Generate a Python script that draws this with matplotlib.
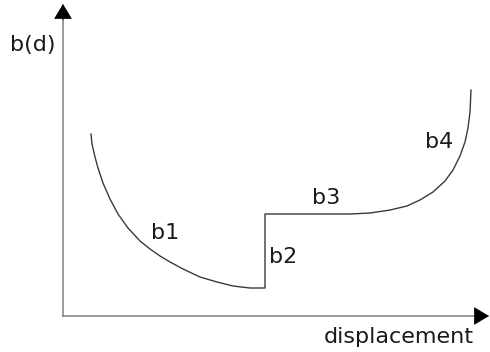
import matplotlib
matplotlib.use('Agg')
import matplotlib.pyplot as plt

# curve points (displacement, b(d)), arbitrary units
b1_x = [28, 29, 32, 35, 40, 47, 55, 65, 77, 87, 97, 107, 120, 137, 154, 170, 187, 202]
b1_y = [182, 172, 159, 148, 133, 117, 102, 88, 75, 67, 60, 54, 47, 39, 34, 30, 28, 28]
b2_x = [202, 202]
b2_y = [28, 102]
b3_x = [202, 287]
b3_y = [102, 102]
b4_x = [287, 307, 327, 344, 357, 370, 382, 390, 397, 402, 405, 407, 408]
b4_y = [102, 103, 106, 110, 116, 124, 135, 146, 160, 174, 188, 204, 226]

labels = ['b1', 'b2', 'b3', 'b4']
label_x = [102, 220, 263, 376]
label_y = [83, 59, 118, 174]

x_max = 426  # tip of the x arrow
y_max = 312  # tip of the y arrow

fig = plt.figure(figsize=(4.9, 3.52), dpi=100)
ax = fig.add_axes([0, 0, 1, 1])
ax.set_xlim(-63, 427)
ax.set_ylim(-36, 316)
ax.axis('off')

# axes lines (gray) with black arrow heads
ax.plot([0, x_max - 13], [0, 0], color='#8a8a8a', lw=1.2)
ax.plot([0, 0], [0, y_max - 16], color='#8a8a8a', lw=1.2)
head = dict(arrowstyle='-|>,head_length=10,head_width=6', mutation_scale=1,
            color='black', lw=0.5, shrinkA=0, shrinkB=0)
ax.annotate('', xy=(x_max, 0), xytext=(x_max - 14, 0), arrowprops=head)
ax.annotate('', xy=(0, y_max), xytext=(0, y_max - 16), arrowprops=head)

# the b(d) curve
curve_x = b1_x + b2_x + b3_x + b4_x
curve_y = b1_y + b2_y + b3_y + b4_y
ax.plot(curve_x, curve_y, color='#3a3a3a', lw=1.0, solid_joinstyle='round')

for t, x, y in zip(labels, label_x, label_y):
    ax.text(x, y, t, fontsize=16, ha='center', va='center', color='#1a1a1a')

ax.text(-30, 271, 'b(d)', fontsize=16, ha='center', va='center', color='#1a1a1a')
ax.text(336, -21, 'displacement', fontsize=16, ha='center', va='center', color='#1a1a1a')

fig.savefig('out.png', dpi=100)
